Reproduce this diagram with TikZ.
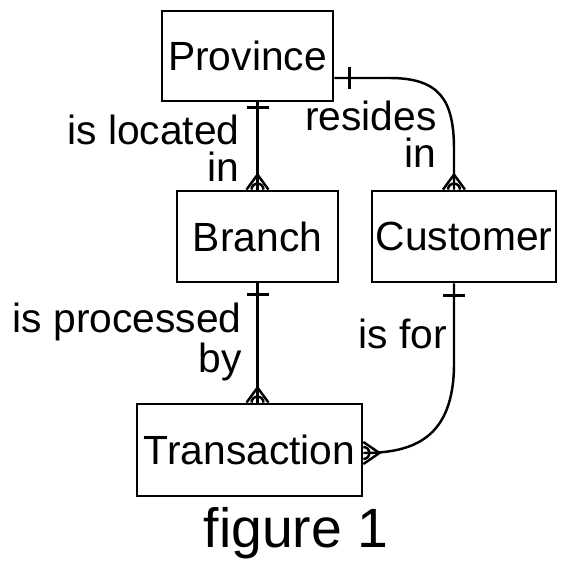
\documentclass[tikz,border=0pt]{standalone}
\usepackage{fontspec}
\setmainfont{Liberation Sans}
\usepackage{tikz}
\usetikzlibrary{positioning, calc}

\tikzset{
  entity/.style={draw, line width=1.6pt, inner sep=0pt, minimum height=1.82cm,
    font=\fontsize{23.2}{21.6}\selectfont},
  rel/.style={line width=1.4pt},
  onebar/.style={line width=1.9pt},
  lbl/.style={inner sep=0pt, align=right, font=\fontsize{23.2}{21.6}\selectfont}
}

\begin{document}
\begin{tikzpicture}[x=0.02cm, y=-0.02cm]
\useasboundingbox (0,0) rectangle (566,573);

\node[entity, minimum width=3.42cm, minimum height=1.8cm] (Province) at (247.5,56) {Province};
\node[entity, minimum width=3.22cm] (Branch) at (257.5,236.5) {Branch};
\node[entity, minimum width=3.68cm] (Customer) at (464,236.5) {Customer};
\node[entity, minimum width=4.5cm, minimum height=1.84cm] (Transaction) at (249.5,450) {Transaction};

\coordinate (pe) at ($(Province.east)+(0,22)$);
\coordinate (cn) at ($(Customer.north)+(-10,0)$);
\coordinate (cs) at ($(Customer.south)+(-10,0)$);
\coordinate (te) at ($(Transaction.east)+(0,3)$);

% Province -- Branch
\draw[rel] (Province.south -| Branch.north) -- (Branch.north);
\draw[onebar] ($(Province.south -| Branch.north)+(-11,5)$) -- ++(22,0);
\draw[rel] ($(Branch.north)+(-11,0)$) -- ++(11,-15) -- ++(11,15);
\draw[rel] ($(Branch.north)+(-6,0)$) arc (180:360:6);

% Province -- Customer
\draw[rel] (pe) -- ++(55,0) .. controls +(50,0) and +(0,-50) .. ($(cn)+(0,-40)$) -- (cn);
\draw[onebar] ($(pe)+(15,-11)$) -- ++(0,22);
\draw[rel] ($(cn)+(-11,0)$) -- ++(11,-15) -- ++(11,15);
\draw[rel] ($(cn)+(-6,0)$) arc (180:360:6);

% Branch -- Transaction
\draw[rel] (Branch.south) -- (Branch.south |- Transaction.north);
\draw[onebar] ($(Branch.south)+(-11,11)$) -- ++(22,0);
\draw[rel] ($(Branch.south |- Transaction.north)+(-11,0)$) -- ++(11,-15) -- ++(11,15);
\draw[rel] ($(Branch.south |- Transaction.north)+(-6,0)$) arc (180:360:6);

% Customer -- Transaction
\draw[rel] (cs) -- ++(0,80) .. controls +(0,75) and +(50,0) .. (te);
\draw[onebar] ($(cs)+(-11,12)$) -- ++(22,0);
\draw[rel] ($(te)+(0,-11)$) -- ++(16,11) -- ++(-16,11);
\draw[rel] ($(te)+(0,-6)$) arc (270:450:6);

% labels
\node[lbl, anchor=base east] (loc) at (240,182) {is located\\in};
\node[lbl, anchor=base east] (res) at (437,168) {resides\\in};
\node[lbl, anchor=base east] (proc) at (242,372) {is processed\\by};
\node[lbl, anchor=base east] (for) at (447,348) {is for};
\node[inner sep=0pt, anchor=base, font=\fontsize{31.5}{33}\selectfont] (fig) at (296,547) {figure 1};
\end{tikzpicture}
\end{document}
